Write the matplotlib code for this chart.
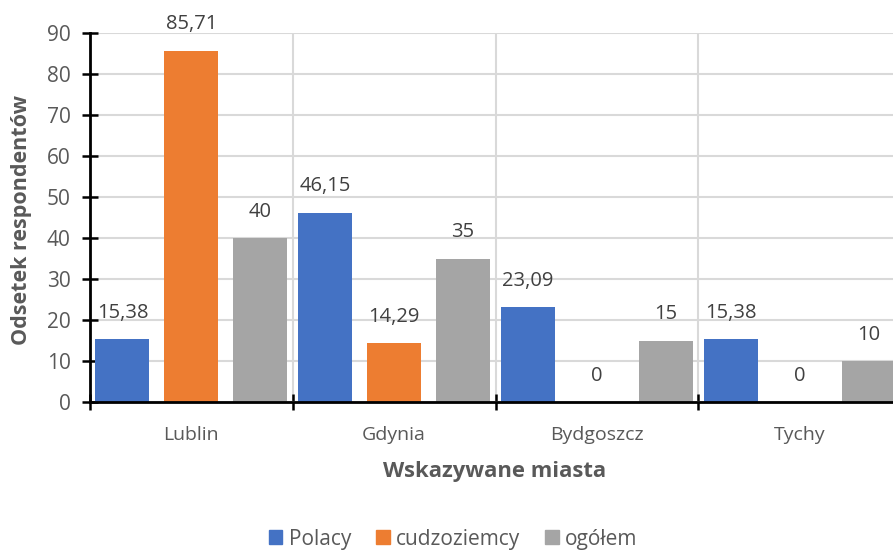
import matplotlib
matplotlib.use("Agg")
import matplotlib.pyplot as plt
from matplotlib.patches import Patch
import numpy as np

cities = ["Lublin", "Gdynia", "Bydgoszcz", "Tychy"]
polacy = [15.38, 46.15, 23.09, 15.38]
cudzoziemcy = [85.71, 14.29, 0, 0]
ogolem = [40, 35, 15, 10]
series_names = ["Polacy", "cudzoziemcy", "ogółem"]
colors = ["#4472C4", "#ED7D31", "#A5A5A5"]
yticks = [0, 10, 20, 30, 40, 50, 60, 70, 80, 90]

plt.rcParams["font.family"] = ["Open Sans", "DejaVu Sans"]
text_color = "#595959"

W, H = 893, 551
fig = plt.figure(figsize=(W / 100, H / 100), dpi=100)
left, right, top, bottom = 90, 901, 33, 402
ax = fig.add_axes([left / W, 1 - bottom / H, (right - left) / W, (bottom - top) / H])

x = np.arange(len(cities))
step = 0.34
width = 0.266
values = [polacy, cudzoziemcy, ogolem]


def fmt(v):
    if v == int(v):
        return str(int(v))
    return f"{v:.2f}".replace(".", ",")


for i, (vals, col) in enumerate(zip(values, colors)):
    pos = x + (i - 1) * step
    ax.bar(pos, vals, width=width, color=col, zorder=3)
    for px, v in zip(pos, vals):
        ax.annotate(fmt(v), (px, v), xytext=(0, 19), textcoords="offset points",
                    ha="center", va="center", fontsize=14.5, color="#404040", zorder=4)

ax.set_xlim(-0.5, len(cities) - 0.5)
ax.set_ylim(0, 90)
ax.set_yticks(yticks)
ax.set_yticklabels([str(t) for t in yticks], fontsize=15, color=text_color)
ax.set_xticks(np.arange(len(cities) + 1) - 0.5)
ax.set_xticklabels([])
ax.set_xticks(x, minor=True)
ax.set_xticklabels(cities, minor=True, fontsize=14, color=text_color)
ax.tick_params(axis="x", which="minor", length=0, pad=17)
ax.tick_params(axis="x", which="major", direction="inout", length=12, width=1.8, color="black")
ax.tick_params(axis="y", direction="inout", length=12, width=1.8, color="black", pad=8)

ax.grid(True, which="major", color="#d9d9d9", linewidth=1.5, zorder=0)
ax.set_axisbelow(True)
for s in ["top", "right"]:
    ax.spines[s].set_visible(False)
for s in ["left", "bottom"]:
    ax.spines[s].set_linewidth(2)
    ax.spines[s].set_color("black")
    ax.spines[s].set_zorder(5)

fig.text(22 / W, 1 - 220 / H, "Odsetek respondentów", ha="center", va="center", rotation=90,
         fontsize=15.5, fontweight="bold", color=text_color)
fig.text(495 / W, 1 - 471 / H, "Wskazywane miasta", ha="center", va="center",
         fontsize=15.8, fontweight="bold", color=text_color)

handles = [Patch(color=c, label=n) for c, n in zip(colors, series_names)]
fig.legend(handles=handles, loc="center", bbox_to_anchor=(453 / W, 1 - 539 / H), ncol=3,
           frameon=False, fontsize=15, handlelength=0.65, handleheight=0.65,
           handletextpad=0.3, columnspacing=1.2, labelcolor=text_color)

fig.savefig("out.png", dpi=100)
